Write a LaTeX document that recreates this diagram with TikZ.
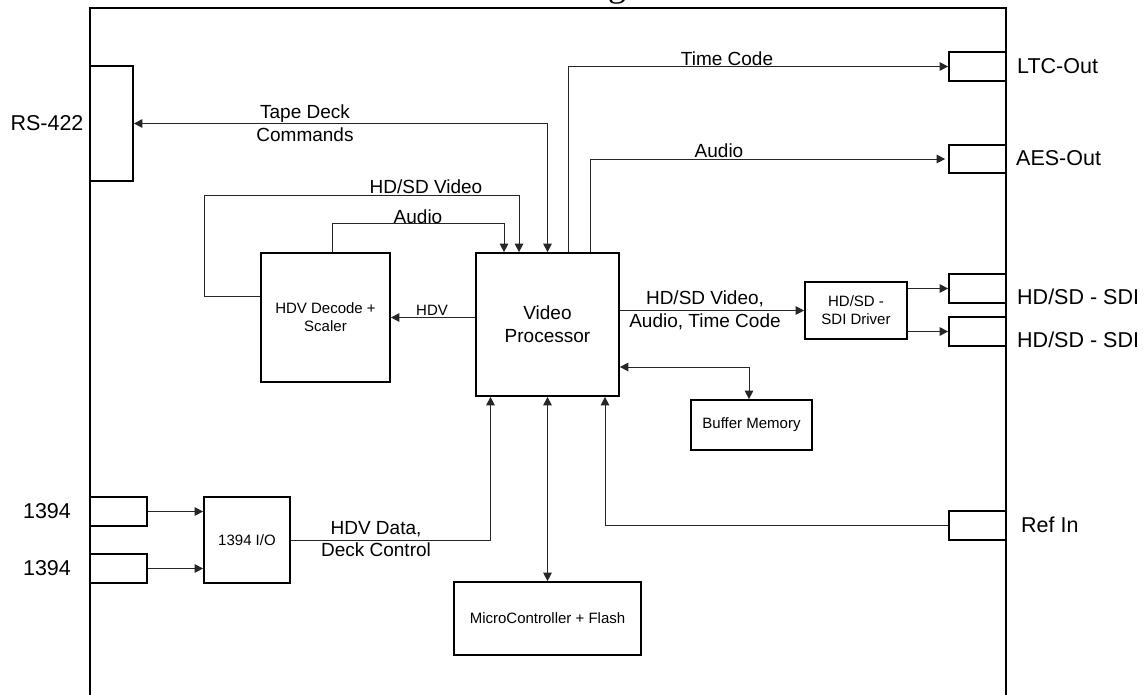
\documentclass[tikz,border=0pt]{standalone}
\usepackage{fontspec}
\setmainfont{Liberation Sans}
\newfontfamily\titlefont{Liberation Serif}
\usetikzlibrary{arrows.meta}
\begin{document}
\begin{tikzpicture}[x=1pt,y=-1pt,
  box/.style={draw=black,line width=1.7pt,inner sep=0pt,minimum width=#1},
  port/.style={draw=black,line width=1.7pt,inner sep=0pt,minimum width=57pt,minimum height=29pt},
  conn/.style={draw=black!85,line width=1pt,
    >={Triangle[length=8.5pt,width=8.5pt]}},
  lbl/.style={inner sep=0pt,align=center,font=\fontsize{19}{22.5}\selectfont},
  plbl/.style={inner sep=0pt,font=\fontsize{21.5}{24}\selectfont},
  small/.style={align=center,font=\fontsize{15}{18}\selectfont}
]
\useasboundingbox (0,0) rectangle (1146,694);
\clip (0,0) rectangle (1146,694);

% partly visible title
\node[anchor=base,inner sep=0pt,font=\titlefont\fontsize{36}{40}\selectfont] (title) at (617,-3.5) {g};

% outer frame
\draw[line width=1.8pt] (90,700) -- (90,8) -- (1006,8) -- (1006,700);

% ports
\node[port,minimum width=43pt,minimum height=115pt] (rs) at (111.5,123.5) {};
\node[port] (ltc) at (977.5,66.5) {};
\node[port,minimum height=28pt] (aes) at (977.5,159) {};
\node[port] (sdi1) at (977.5,288.5) {};
\node[port] (sdi2) at (977.5,331.5) {};
\node[port] (ref) at (977.5,525.5) {};
\node[port] (p1) at (118.5,511.5) {};
\node[port] (p2) at (118.5,568.5) {};

% port labels
\node[plbl] (rsl) at (47,123) {RS-422};
\node[plbl,anchor=west] (ltcl) at (1017,66) {LTC-Out};
\node[plbl,anchor=west] (aesl) at (1016,158) {AES-Out};
\node[plbl,anchor=west] (sdil1) at (1017,297) {HD/SD - SDI};
\node[plbl,anchor=west] (sdil2) at (1017,340) {HD/SD - SDI};
\node[plbl,anchor=west] (refl) at (1021,525) {Ref In};
\node[plbl] (p1l) at (47,511) {1394};
\node[plbl] (p2l) at (47,568) {1394};

% blocks
\node[box=129pt,minimum height=129pt,small] (hdv) at (325.5,317.5) {HDV Decode +\\Scaler};
\node[box=143pt,minimum height=143pt,align=center,font=\fontsize{19}{23}\selectfont] (vp) at (547.5,324.5) {Video\\Processor};
\node[box=102pt,minimum height=57pt,small] (drv) at (856,310.5) {HD/SD -\\SDI Driver};
\node[box=121pt,minimum height=50pt,small] (buf) at (751.5,425) {Buffer Memory};
\node[box=86pt,minimum height=86pt,small] (io) at (247,540) {1394 I/O};
\node[box=187pt,minimum height=73pt,small] (mc) at (547.5,618.5) {MicroController + Flash};

% connectors
\draw[conn,<->] (rs.east) -| (vp.north);
\draw[conn,->] ([yshift=21.5pt]hdv.west) -| (204,195) -| ([xshift=-28.5pt]vp.north);
\draw[conn,->] ([xshift=6.5pt]hdv.north) -- ++(0,-29) -| ([xshift=-43.5pt]vp.north);
\draw[conn,->] (vp.west |- hdv.east) -- (hdv.east);
\draw[conn,->] ([xshift=20.5pt]vp.north) |- (ltc.west);
\draw[conn,->] ([xshift=42.5pt]vp.north) |- ([xshift=-3pt]aes.west);
\draw[conn,->] (vp.east |- drv.west) -- (drv.west);
\draw[conn,->] (drv.east |- sdi1.west) -- (sdi1.west);
\draw[conn,->] (drv.east |- sdi2.west) -- (sdi2.west);
\draw[conn,<->] ([yshift=-42.5pt]vp.east) -| ([xshift=-2.5pt]buf.north);
\draw[conn,->] (ref.west) -| ([xshift=57.5pt]vp.south);
\draw[conn,->] (io.east) -| ([xshift=-57pt]vp.south);
\draw[conn,<->] (vp.south) -- (mc.north);
\draw[conn,->] (p1.east) -- (p1.east -| io.west);
\draw[conn,->] (p2.east) -- (p2.east -| io.west);

% connector labels
\node[lbl] (ltape) at (305,123) {Tape Deck\\Commands};
\node[lbl] (lvid) at (426,187) {HD/SD Video};
\node[lbl] (laud) at (418,217) {Audio};
\node[lbl,font=\fontsize{15}{18}\selectfont] (lhdv) at (432,310) {HDV};
\node[lbl] (ltc2) at (727,59) {Time Code};
\node[lbl] (laud2) at (719,151) {Audio};
\node[lbl] (lsdi) at (705,310.5) {HD/SD Video,\\Audio, Time Code};
\node[lbl] (ldata) at (376,539) {HDV Data,\\Deck Control};
\end{tikzpicture}
\end{document}
